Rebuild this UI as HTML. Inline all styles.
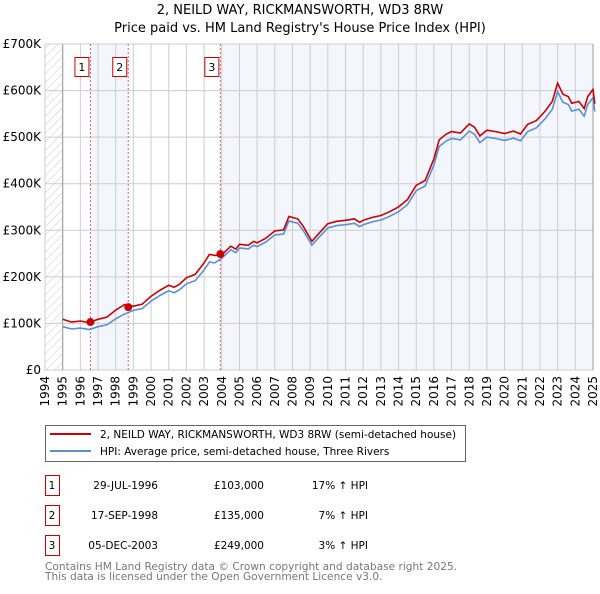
<!DOCTYPE html>
<html><head><meta charset="utf-8"><style>
body{margin:0;background:#fff;width:600px;height:590px;overflow:hidden;font-family:"DejaVu Sans","Liberation Sans",sans-serif;}
svg text{font-family:"DejaVu Sans","Liberation Sans",sans-serif;}
</style></head><body>
<svg id="chart" width="600" height="590" xmlns="http://www.w3.org/2000/svg">
<defs><pattern id="hatch" width="6" height="6" patternUnits="userSpaceOnUse" patternTransform="rotate(45)"><line x1="0" y1="0" x2="0" y2="6" stroke="#ccc" stroke-width="1"/></pattern></defs>
<text x="300" y="14" text-anchor="middle" font-size="13">2, NEILD WAY, RICKMANSWORTH, WD3 8RW</text>
<text x="300" y="32" text-anchor="middle" font-size="13">Price paid vs. HM Land Registry's House Price Index (HPI)</text>
<g id="plot"></g>
<g>
<rect x="45.5" y="425.5" width="420" height="36" fill="#fff" stroke="#666"/>
<line x1="50" y1="434" x2="91" y2="434" stroke="#cc0000" stroke-width="2"/>
<text x="100" y="438" font-size="10.5">2, NEILD WAY, RICKMANSWORTH, WD3 8RW (semi-detached house)</text>
<line x1="50" y1="451" x2="91" y2="451" stroke="#5b8fd4" stroke-width="2"/>
<text x="100" y="455" font-size="10.5">HPI: Average price, semi-detached house, Three Rivers</text>
</g>
<g id="table" font-size="10.5"></g>
<text x="45" y="570" font-size="10.6" fill="#777">Contains HM Land Registry data © Crown copyright and database right 2025.</text>
<text x="45" y="580" font-size="10.6" fill="#777">This data is licensed under the Open Government Licence v3.0.</text>
</svg>
<script>
const hpiYears=[1995,1995.5,1996,1996.5,1997,1997.5,1998,1998.5,1999,1999.5,2000,2000.5,2001,2001.3,2001.6,2002,2002.5,2003,2003.3,2003.6,2004,2004.5,2004.8,2005,2005.5,2005.8,2006,2006.5,2007,2007.5,2007.8,2008.3,2008.6,2009.1,2009.5,2010,2010.5,2011,2011.5,2011.8,2012,2012.5,2013,2013.5,2014,2014.5,2015,2015.5,2016,2016.3,2016.7,2017,2017.5,2018,2018.3,2018.6,2019,2019.5,2020,2020.5,2020.9,2021.3,2021.8,2022.3,2022.7,2023.0,2023.3,2023.6,2023.8,2024.2,2024.5,2024.7,2025.0,2025.1];
const hpiValues=[93,88,90,87,93,97,110,120,128,132,148,160,170,166,172,185,192,215,232,230,240,258,252,262,260,268,265,275,290,292,320,315,300,268,285,305,310,312,315,308,312,318,322,330,340,355,385,395,440,480,492,497,494,513,506,488,500,497,493,498,492,512,520,540,560,598,575,570,556,560,545,570,585,555];
const saleYears=[1996.57,1998.71,2003.92];
const salePrices=[103000,135000,249000];
const saleLabels=["1","2","3"];
const saleDates=["29-JUL-1996","17-SEP-1998","05-DEC-2003"];
const saleDiffs=["17% ↑ HPI","7% ↑ HPI","3% ↑ HPI"];
const saleRatios=[1.17,1.07,1.03];
const yTicks=[0,100,200,300,400,500,600,700];
const yTickLabels=["£0","£100K","£200K","£300K","£400K","£500K","£600K","£700K"];
const xTicks=[1994,1995,1996,1997,1998,1999,2000,2001,2002,2003,2004,2005,2006,2007,2008,2009,2010,2011,2012,2013,2014,2015,2016,2017,2018,2019,2020,2021,2022,2023,2024,2025];

const X0=45,X1=593,Y0=370,Y1=44;
const xs=y=>X0+(y-1994)/(2025-1994)*(X1-X0);
const ys=v=>Y0-v/700*(Y0-Y1);
const NS="http://www.w3.org/2000/svg";
const plot=document.getElementById('plot');
function mk(tag,attrs,parent){const e=document.createElementNS(NS,tag);for(const k in attrs)e.setAttribute(k,attrs[k]);(parent||plot).appendChild(e);return e;}

let e=mk('rect',{x:X0,y:Y1,width:X1-X0,height:Y0-Y1,fill:'#fff'});


e=mk('rect',{x:xs(saleYears[0]),y:Y1,width:xs(saleYears[1])-xs(saleYears[0]),height:Y0-Y1,fill:'#eef3fc',opacity:0.7});


e=mk('rect',{x:xs(saleYears[2]),y:Y1,width:X1-xs(saleYears[2]),height:Y0-Y1,fill:'#eef3fc',opacity:0.7});


e=mk('rect',{x:X0,y:Y1,width:xs(1995)-X0,height:Y0-Y1,fill:'url(#hatch)'});



xTicks.forEach((t,i)=>{
 const l=mk('line',{x1:xs(t),x2:xs(t),y1:Y1,y2:Y0,stroke:'#ccc','stroke-width':1});
 
 
 const tx=mk('text',{x:0,y:0,'font-size':12,'text-anchor':'end',transform:`translate(${xs(t)+4},${Y0+6}) rotate(-90)`});
 tx.textContent=t;
 
 
});
yTicks.forEach((t,i)=>{
 const l=mk('line',{x1:X0,x2:X1,y1:ys(t),y2:ys(t),stroke:'#ccc','stroke-width':1});
 
 
 const tx=mk('text',{x:X0-4,y:ys(t)+4,'font-size':12,'text-anchor':'end'});
 tx.textContent=yTickLabels[i];
 
 
});
e=mk('line',{x1:xs(1995),x2:xs(1995),y1:Y1,y2:Y0,stroke:'#999'});


e=mk('line',{x1:X1,x2:X1,y1:Y1,y2:Y0,stroke:'#999'});



saleYears.forEach((s,i)=>{
 const l=mk('line',{x1:xs(s),x2:xs(s),y1:Y1,y2:Y0,stroke:'#e06060','stroke-dasharray':'2,2'});
 
 
 const r=mk('rect',{x:xs(s)-15.5,y:57.5,width:14,height:19,fill:'#fff',stroke:'#cc0000'});
 
 
 const t=mk('text',{x:xs(s)-8.5,y:71,'font-size':11,'text-anchor':'middle'});
 t.textContent=saleLabels[i];
 
 
});

function ratioAt(y){if(y<saleYears[1])return saleRatios[0];if(y<saleYears[2])return saleRatios[1];return saleRatios[2];}
const hp=hpiYears.map((y,i)=>`${i?'L':'M'}${xs(y).toFixed(1)},${ys(hpiValues[i]).toFixed(1)}`).join('');
const pp=hpiYears.map((y,i)=>`${i?'L':'M'}${xs(y).toFixed(1)},${ys(hpiValues[i]*ratioAt(y)).toFixed(1)}`).join('');
e=mk('path',{d:hp,fill:'none',stroke:'#5b8fd4','stroke-width':1.6});


e=mk('path',{d:pp,fill:'none',stroke:'#cc0000','stroke-width':1.6});


saleYears.forEach((s,i)=>{
 const c=mk('circle',{cx:xs(s),cy:ys(salePrices[i]/1000),r:4,fill:'#cc0000'});
 
 
});

const table=document.getElementById('table');
saleLabels.forEach((lab,i)=>{
 const y=475+i*30;
 const r=mk('rect',{x:45.5,y:y+0.5,width:14,height:20,fill:'#fff',stroke:'#cc0000'},table);
 
 
 const vals=[[52,lab,'middle'],[158,saleDates[i],'end'],[264,'£'+salePrices[i].toLocaleString('en-GB'),'end'],[368,saleDiffs[i],'end']];
 vals.forEach(v=>{
  const t=mk('text',{x:v[0],y:y+14,'text-anchor':v[2]},table);
  t.textContent=v[1];
  
  
 });
});
</script>
</body></html>
